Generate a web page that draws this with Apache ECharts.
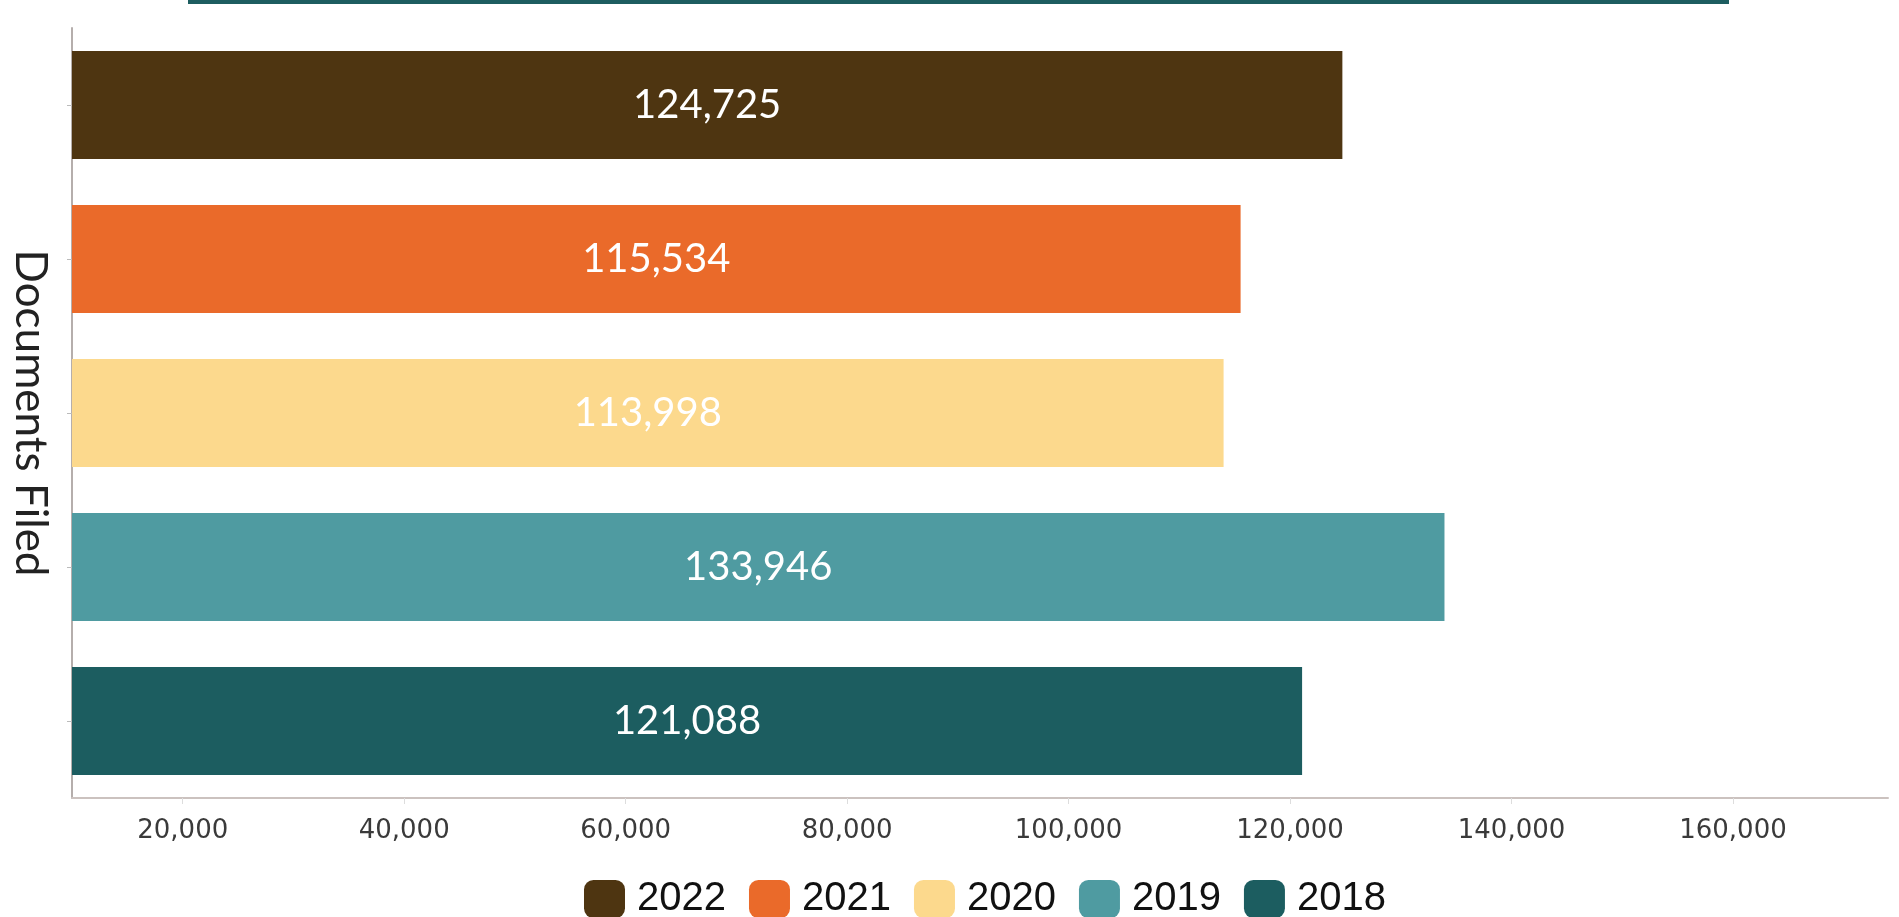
<!DOCTYPE html>
<html>
<head>
<meta charset="utf-8">
<script src="https://cdn.jsdelivr.net/npm/echarts@6/dist/echarts.min.js"></script>
<style>
    html, body { margin: 0; padding: 0; background: #fff; }
    #chart { width: 1899px; height: 917px; }
</style>
</head>
<body>
<div id="chart"></div>
<script>
    // documents filed per year, top bar first
    const years = ['2022', '2021', '2020', '2019', '2018'];
    const filings = [124725, 115534, 113998, 133946, 121088];
    const tickValues = [20000, 40000, 60000, 80000, 100000, 120000, 140000, 160000];

    const PALETTE = ['#4e3511', '#ea6a2a', '#fcd98d', '#4f9ba1', '#1c5d60'];

    const fmt = v => Number(v).toLocaleString('en-US');

    const series = years.map((year, i) => ({
        name: year,
        type: 'bar',
        stack: 'docs',
        barCategoryGap: '30%',
        animation: false,
        itemStyle: { color: PALETTE[i] },
        label: {
            show: true,
            position: 'inside',
            color: '#fff',
            fontFamily: 'Lato',
            fontSize: 40,
            formatter: p => fmt(p.value)
        },
        data: years.map((_, j) => j === i ? filings[i] : '-')
    }));

    const chart = echarts.init(document.getElementById('chart'));
    chart.setOption({
        backgroundColor: '#fff',
        graphic: [{
            type: 'rect',
            shape: { x: 188, y: 0, width: 1541, height: 4 },
            style: { fill: '#1d5d60' }
        }],
        grid: { left: 68, right: 11, top: 28, bottom: 119 },
        legend: {
            top: 874,
            left: 579,
            itemWidth: 41,
            itemHeight: 38,
            itemGap: 23,
            icon: 'roundRect',
            textStyle: {
                fontFamily: 'Liberation Sans',
                fontSize: 40,
                color: '#111',
                padding: [0, 0, 0, 7]
            },
            data: years
        },
        xAxis: {
            type: 'value',
            min: 10000,
            max: 174000,
            axisLine: { show: true, lineStyle: { color: '#cbc2bf', width: 2 } },
            axisTick: {
                show: true,
                length: 6,
                customValues: tickValues,
                lineStyle: { color: '#dddddd' }
            },
            splitLine: { show: false },
            axisLabel: {
                customValues: tickValues,
                margin: 20,
                fontFamily: 'DejaVu Sans',
                fontSize: 26,
                color: '#3a3a3a',
                formatter: v => fmt(v)
            }
        },
        yAxis: {
            type: 'category',
            inverse: true,
            data: years,
            name: 'Documents Filed',
            nameLocation: 'middle',
            nameRotate: -90,
            nameGap: 20,
            nameTextStyle: {
                fontFamily: 'Lato',
                fontSize: 44,
                color: '#222'
            },
            axisLine: { show: true, lineStyle: { color: '#b5aeac', width: 2 } },
            axisTick: { show: true, alignWithLabel: true, length: 5, lineStyle: { color: '#bbb' } },
            axisLabel: { show: false }
        },
        series: series
    });
</script>
</body>
</html>
